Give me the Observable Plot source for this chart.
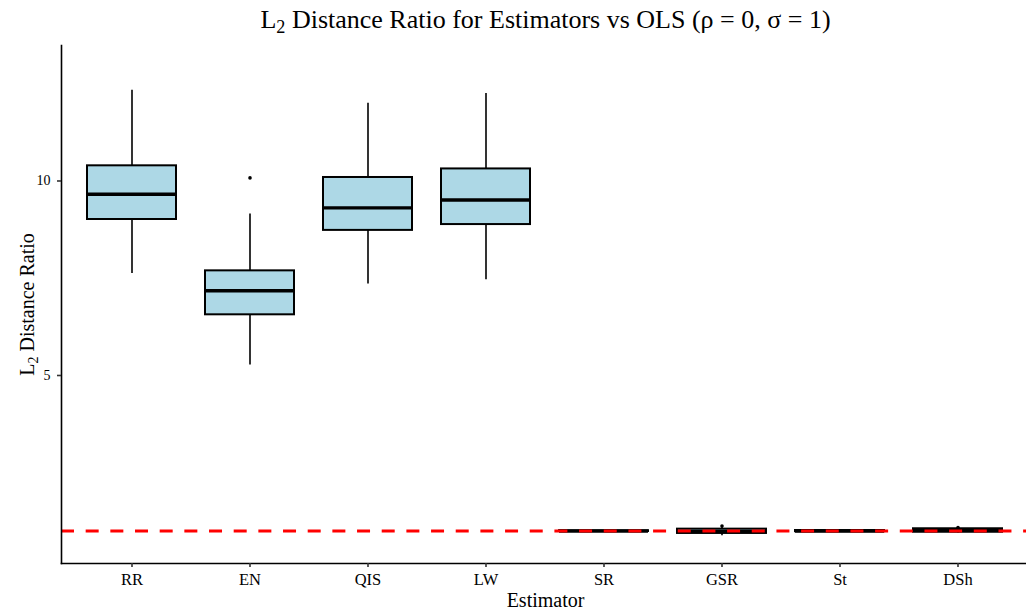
<!DOCTYPE html>
<html>
<head>
<meta charset="utf-8">
<script src="https://cdn.jsdelivr.net/npm/d3@7"></script>
<script src="https://cdn.jsdelivr.net/npm/@observablehq/plot@0.6"></script>
<style>
  html, body { margin: 0; padding: 0; background: #fff; }
  #chart svg { display: block; }
</style>
</head>
<body>
<div id="chart"></div>
<script>
// ---- data ----
const categories = ["RR", "EN", "QIS", "LW", "SR", "GSR", "St", "DSh"];
const whiskerLow  = [7.62, 5.27, 7.35, 7.46, 0.985, 0.88, 0.965, 0.95];
const boxLow      = [9.01, 6.56, 8.73, 8.88, 0.99, 0.94, 0.985, 0.97];
const medians     = [9.66, 7.18, 9.31, 9.51, 1.00, 0.99, 1.00, 1.02];
const boxHigh     = [10.39, 7.69, 10.09, 10.31, 1.01, 1.05, 1.015, 1.06];
const whiskerHigh = [12.33, 9.15, 12.00, 12.25, 1.015, 1.10, 1.035, 1.08];
const outlierCats = ["EN", "GSR", "DSh"];
const outlierVals = [10.08, 1.13, 1.09];
const referenceLine = [1];
const yTicks = [5, 10];
const titleText = "L2 Distance Ratio for Estimators vs OLS (ρ = 0, σ = 1)";
const xLabel = "Estimator";
const yLabel = "L2 Distance Ratio";

const boxes = categories.map((c, i) => ({
  cat: c, lo: whiskerLow[i], q1: boxLow[i], med: medians[i], q3: boxHigh[i], hi: whiskerHigh[i]
}));
const outliers = outlierCats.map((c, i) => ({cat: c, value: outlierVals[i]}));

const W = 1026, H = 611;
const plot = Plot.plot({
  width: W,
  height: H,
  marginLeft: 61,
  marginRight: 0,
  marginTop: 45,
  marginBottom: 48,
  style: {fontFamily: "'Liberation Serif', 'Times New Roman', serif", background: "#fff", color: "#000"},
  x: {type: "band", domain: categories, range: [60.1, 1029], paddingInner: 0.25, paddingOuter: 0.225, label: null},
  y: {domain: [0.167, 13.483], label: null},
  marks: [
    Plot.ruleX(boxes, {x: "cat", y1: "lo", y2: "hi", stroke: "#000", strokeWidth: 1.6}),
    Plot.barY(boxes, {x: "cat", y1: "q1", y2: "q3", fill: "#ADD8E6", stroke: "#000", strokeWidth: 2}),
    Plot.tickY(boxes, {x: "cat", y: "med", stroke: "#000", strokeWidth: 3.4}),
    Plot.dot(outliers, {x: "cat", y: "value", r: 1.8, fill: "#000", stroke: null}),
    Plot.ruleY(referenceLine, {stroke: "#ff0000", strokeWidth: 3, strokeDasharray: "13,11.67"}),
    Plot.frame({anchor: "left", stroke: "#000", strokeWidth: 1.6}),
    Plot.frame({anchor: "bottom", stroke: "#000", strokeWidth: 1.6}),
    Plot.axisX({tickSize: 4, tickPadding: 6, fontSize: 16.5, label: null, stroke: "#333", strokeWidth: 1.6}),
    Plot.axisY(yTicks, {tickSize: 4, tickPadding: 7, fontSize: 14, label: null, stroke: "#333", strokeWidth: 1.6}),
    Plot.text([titleText], {frameAnchor: "top", dx: 1.5, dy: -18, lineAnchor: "bottom", fontSize: 26, fill: "#000"}),
    Plot.text([xLabel], {frameAnchor: "bottom", dx: 1.5, dy: 43, lineAnchor: "bottom", fontSize: 20, fill: "#000"}),
    Plot.text([yLabel], {frameAnchor: "left", dx: -28, rotate: -90, textAnchor: "middle", lineAnchor: "bottom", fontSize: 20, fill: "#000"})
  ]
});

// subscript "2" in "L2"
d3.select(plot).selectAll("text").each(function() {
  const t = this.textContent;
  if (t.startsWith("L2 ")) {
    const sel = d3.select(this);
    sel.text("");
    sel.append("tspan").text("L");
    sel.append("tspan").attr("font-size", "70%").attr("dy", "0.3em").text("2");
    sel.append("tspan").attr("dy", "-0.21em").text(t.slice(2));
  }
});

document.getElementById("chart").appendChild(plot);
</script>
</body>
</html>
